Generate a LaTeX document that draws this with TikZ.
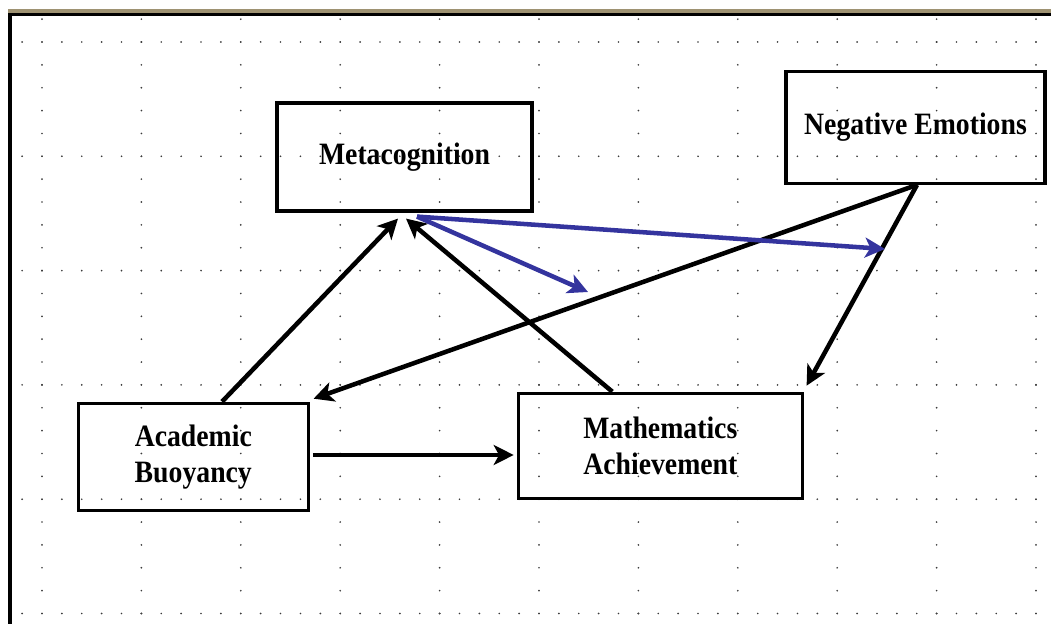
\documentclass[tikz,border=0pt]{standalone}
\usepackage{fontspec}
\setmainfont{Liberation Serif}
\usetikzlibrary{arrows.meta,calc}
\definecolor{bluearr}{RGB}{52,52,158}
\definecolor{topbar}{RGB}{158,146,114}
\definecolor{dotgray}{RGB}{60,60,60}
\newcommand\tallword[1]{\scalebox{1}[1.12]{#1}}
\tikzset{
  box/.style={draw=black, line width=2.4pt, rectangle, align=center,
    font=\fontsize{20.8pt}{27.4pt}\selectfont\bfseries, inner sep=0pt},
  arr/.style={line width=3.4pt, -{Stealth[length=15pt,width=15pt,inset=4pt]}},
  barr/.style={arr, draw=bluearr, fill=bluearr},
  griddot/.style={fill=dotgray},
}
\begin{document}
\begin{tikzpicture}[x=0.75pt,y=-0.75pt]
\useasboundingbox (0,0) rectangle (1051,624);
% frame
\fill[topbar] (8,9.3) rectangle (1051,12.7);
\fill[black] (8,12.7) rectangle (1051,16.5);
\fill[black] (8,12.7) rectangle (12,624);
% dotted drawing grid
\foreach \j in {0,...,5}
  \foreach \i in {-1,...,50}
    \fill[griddot] ({42+19.88*\i},{42+114.3*\j}) circle (0.7pt);
\foreach \k in {0,...,10}
  \foreach \m in {-1,...,25}
    \fill[griddot] ({42+99.4*\k},{42+22.86*\m}) circle (0.7pt);
% boxes
\node[box, minimum width=191.25pt, minimum height=81pt] (meta) at (404.5,157) {\tallword{Metacognition}};
\node[box, minimum width=194.25pt, minimum height=83.7pt] (neg) at (915.5,127.5) {\tallword{Negative Emotions}};
\node[box, minimum width=172.5pt, minimum height=80.55pt] (ab) at (193.3,457) {\tallword{Academic}\\\tallword{Buoyancy}};
\node[box, minimum width=213pt, minimum height=78.75pt] (ma) at (660.3,445.8) {\tallword{Mathematics}\\\tallword{Achievement}};
% free ends of the blue arrows
\coordinate (b1) at (885,249);
\coordinate (b2) at (588,292);
% black connectors
\draw[arr] ($(ab.north)+(28.7,0)$) -- ($(meta.south)+(-6.5,6)$);
\draw[arr] ($(ma.north)+(-48,0)$) -- ($(meta.south)+(1.5,6)$);
\draw[arr] ($(neg.south)+(1.5,0)$) -- ($(ab.north east)+(3.7,-3)$);
\draw[arr] ($(neg.south)+(1.5,0)$) -- ($(ma.north east)+(2.7,-6)$);
\draw[arr] ($(ab.east)+(3,-2)$) -- ($(ab.east -| ma.west)+(-3,-2)$);
% blue connectors
\draw[barr] ($(meta.south)+(12.5,4)$) -- (b1);
\draw[barr] ($(meta.south)+(12.5,4)$) -- (b2);
\end{tikzpicture}
\end{document}
